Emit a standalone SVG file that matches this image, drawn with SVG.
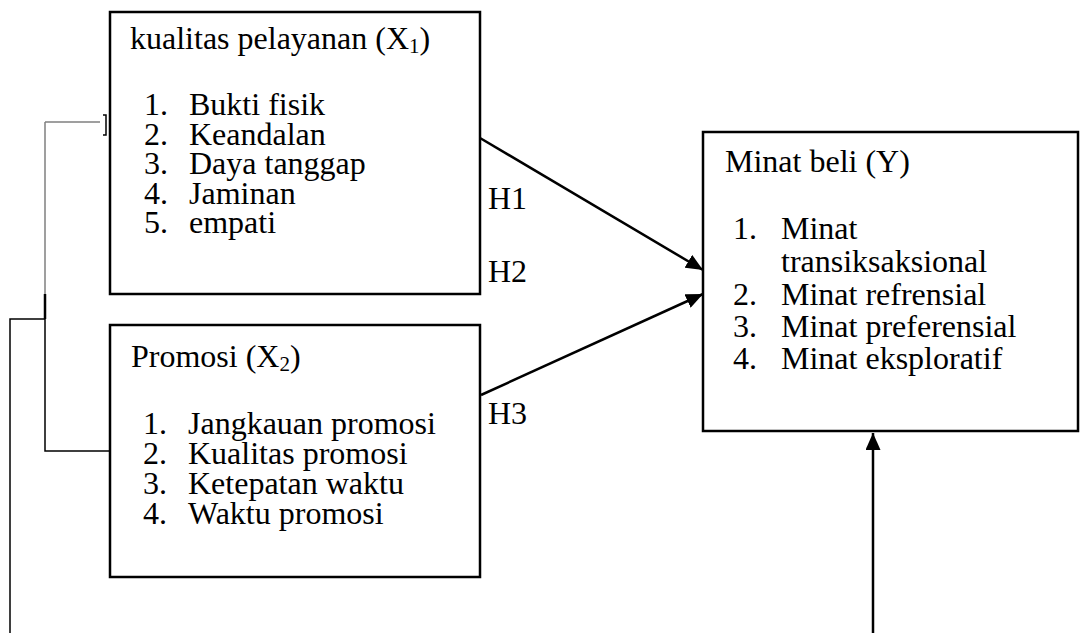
<svg xmlns="http://www.w3.org/2000/svg" width="1080" height="633" viewBox="0 0 1080 633">
<defs>
<style>
.box{fill:#fff;stroke:#000;stroke-width:2.5}
.t{font-family:"Liberation Serif","Times New Roman",serif;font-size:32px;fill:#000}
.sub{font-size:21px}
.ln{fill:none;stroke:#000;stroke-width:2.5}
.thin{fill:none;stroke:#000;stroke-width:1.5}
.gray{fill:none;stroke:#808080;stroke-width:1.5}
</style>
<marker id="ahl" viewBox="0 0 17 15" refX="17" refY="7.5" markerWidth="17" markerHeight="15" markerUnits="userSpaceOnUse" orient="auto">
<path d="M0,0 L17,7.5 L0,15 Z" fill="#000"/>
</marker>
</defs>
<g id="connectors">
<path class="gray" d="M45,122 H100 M45,122 V294"/>
<path class="thin" d="M103,115 H106 V135 H103"/>
<path class="thin" d="M45,319 V451 H110"/>
<path class="ln" d="M45,294 V319"/>
<path class="thin" d="M45,319 H10 V633"/>
<line class="ln" x1="480" y1="138" x2="703" y2="270" marker-end="url(#ahl)"/>
<line class="ln" x1="481" y1="395" x2="703" y2="294" marker-end="url(#ahl)"/>
<line class="ln" x1="873" y1="633" x2="873" y2="433" marker-end="url(#ahl)"/>
</g>
<g id="node-x1">
<rect class="box" x="110" y="12" width="370" height="282"/>
<text class="t" x="130" y="49">kualitas pelayanan (X<tspan class="sub" dy="4">1</tspan><tspan dy="-4">)</tspan></text>
<text class="t" x="144" y="115">1.</text><text class="t" x="189" y="115">Bukti fisik</text>
<text class="t" x="144" y="145">2.</text><text class="t" x="189" y="145">Keandalan</text>
<text class="t" x="144" y="174">3.</text><text class="t" x="189" y="174">Daya tanggap</text>
<text class="t" x="144" y="204">4.</text><text class="t" x="189" y="204">Jaminan</text>
<text class="t" x="144" y="233">5.</text><text class="t" x="189" y="233">empati</text>
</g>
<g id="node-x2">
<rect class="box" x="110" y="325" width="370" height="252"/>
<text class="t" x="131" y="367">Promosi (X<tspan class="sub" dy="4">2</tspan><tspan dy="-4">)</tspan></text>
<text class="t" x="143" y="434">1.</text><text class="t" x="188" y="434">Jangkauan promosi</text>
<text class="t" x="143" y="464">2.</text><text class="t" x="188" y="464">Kualitas promosi</text>
<text class="t" x="143" y="494">3.</text><text class="t" x="188" y="494">Ketepatan waktu</text>
<text class="t" x="143" y="524">4.</text><text class="t" x="188" y="524">Waktu promosi</text>
</g>
<g id="node-y">
<rect class="box" x="703" y="132" width="375" height="299"/>
<text class="t" x="725" y="172">Minat beli (Y)</text>
<text class="t" x="733" y="239">1.</text><text class="t" x="781" y="239">Minat</text>
<text class="t" x="781" y="272">transiksaksional</text>
<text class="t" x="733" y="305">2.</text><text class="t" x="781" y="305">Minat refrensial</text>
<text class="t" x="733" y="337">3.</text><text class="t" x="781" y="337">Minat preferensial</text>
<text class="t" x="733" y="369">4.</text><text class="t" x="781" y="369">Minat eksploratif</text>
</g>
<g id="labels">
<text class="t" x="488" y="209">H1</text>
<text class="t" x="488" y="282">H2</text>
<text class="t" x="488" y="424">H3</text>
</g>
</svg>
